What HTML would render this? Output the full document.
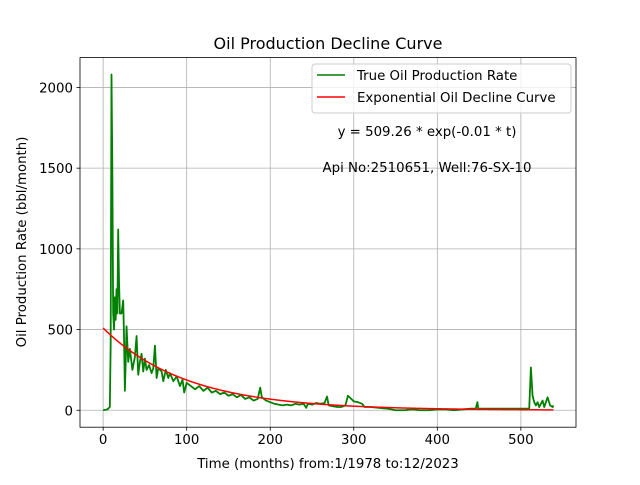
<!DOCTYPE html>
<html><head><meta charset="utf-8"><style>
body{margin:0;background:#fff}
svg{font-family:"DejaVu Sans","Liberation Sans",sans-serif}
</style></head><body>
<svg id="chart" width="640" height="480" viewBox="0 0 640 480" xmlns="http://www.w3.org/2000/svg">
<rect width="640" height="480" fill="#fff"/>
<g id="grid"></g>
<g id="series"></g>
<rect x="80" y="57.6" width="496" height="369.6" fill="none" stroke="#000" stroke-width="0.8"/>
<g id="ticks"></g>
<text x="328" y="49" text-anchor="middle" font-size="16">Oil Production Decline Curve</text>
<text x="328" y="468" text-anchor="middle" font-size="13.33">Time (months) from:1/1978 to:12/2023</text>
<text transform="translate(26,242) rotate(-90)" text-anchor="middle" font-size="13.33">Oil Production Rate (bbl/month)</text>
<text x="427" y="136" text-anchor="middle" font-size="13.33">y = 509.26 * exp(-0.01 * t)</text>
<text x="427" y="172" text-anchor="middle" font-size="13.33">Api No:2510651, Well:76-SX-10</text>
<g>
<rect x="312" y="64" width="259" height="49" rx="3" fill="#fff" fill-opacity="0.8" stroke="#ccc"/>
<line x1="317" y1="75" x2="345" y2="75" stroke="green" stroke-width="1.5"/>
<text x="357" y="80" font-size="13.33">True Oil Production Rate</text>
<line x1="317" y1="97" x2="345" y2="97" stroke="red" stroke-width="1.5"/>
<text x="357" y="102" font-size="13.33">Exponential Oil Decline Curve</text>
</g>
</svg>
<script>
const months=[0,5,8,9,10,11,12,13,14,15,16,17,18,19,20,22,24,25,26,27,28,30,32,35,38,40,42,44,46,48,50,52,55,58,60,62,64,66,70,72,75,78,80,84,88,92,95,97,100,105,110,115,120,125,130,135,140,145,150,155,160,165,170,175,180,185,188,190,195,200,205,210,215,220,225,230,235,240,243,245,250,255,260,265,268,270,275,280,285,290,293,296,300,305,310,313,320,330,340,350,360,370,380,390,400,410,420,430,440,446,448,449,460,480,500,510,512,514,516,518,520,522,526,528,532,535,538,539];
const rates=[0,5,20,400,2080,1500,600,500,700,560,750,600,1120,800,600,600,680,450,120,300,520,300,380,250,330,460,220,300,350,240,320,250,280,230,260,400,200,260,240,180,250,200,230,180,210,150,190,110,170,150,130,150,120,140,110,120,100,110,90,100,80,95,70,80,60,70,140,80,60,50,40,35,30,35,30,40,35,40,15,40,35,45,40,45,85,30,25,20,20,30,90,75,55,50,40,20,20,15,10,0,0,5,0,0,5,5,0,5,10,10,50,10,10,10,10,10,265,90,50,30,50,20,60,20,80,30,20,30];
const fitA=[509.26];
const fitK=[-0.01];
const xTicks=[0,100,200,300,400,500];
const yTicks=[0,500,1000,1500,2000];
const X0=-27.7,X1=566,Y0=-105,Y1=2185;
const L=80,R=576,T=57.6,B=427.2;
function sx(v){return L+(v-X0)/(X1-X0)*(R-L);}
function sy(v){return B-(v-Y0)/(Y1-Y0)*(B-T);}
const NS="http://www.w3.org/2000/svg";
const grid=document.getElementById('grid'),ticks=document.getElementById('ticks'),series=document.getElementById('series');
function mk(tag,attrs,parent){const e=document.createElementNS(NS,tag);for(const k in attrs)e.setAttribute(k,attrs[k]);parent.appendChild(e);return e;}
xTicks.forEach(t=>{
  const g=mk('line',{x1:sx(t),x2:sx(t),y1:T,y2:B,stroke:'#b0b0b0','stroke-width':0.8},grid);
  
  
  mk('line',{x1:sx(t),x2:sx(t),y1:B,y2:B+3.5,stroke:'#000','stroke-width':0.8},ticks);
  const tx=mk('text',{x:sx(t),y:B+17,'text-anchor':'middle','font-size':13.33},ticks);
  tx.textContent=t;
  
  
});
yTicks.forEach(t=>{
  const g=mk('line',{x1:L,x2:R,y1:sy(t),y2:sy(t),stroke:'#b0b0b0','stroke-width':0.8},grid);
  
  
  mk('line',{x1:L-3.5,x2:L,y1:sy(t),y2:sy(t),stroke:'#000','stroke-width':0.8},ticks);
  const tx=mk('text',{x:L-7,y:sy(t)+5,'text-anchor':'end','font-size':13.33},ticks);
  tx.textContent=t;
  
  
});
const tp=mk('polyline',{points:months.map((m,i)=>sx(m)+','+sy(rates[i])).join(' '),fill:'none',stroke:'green','stroke-width':1.8,'stroke-linejoin':'round'},series);


const fp=[];for(let t=0;t<=539;t++)fp.push(sx(t)+','+sy(fitA[0]*Math.exp(fitK[0]*t)));
const fl=mk('polyline',{points:fp.join(' '),fill:'none',stroke:'red','stroke-width':1.5},series);


</script>
</body></html>
